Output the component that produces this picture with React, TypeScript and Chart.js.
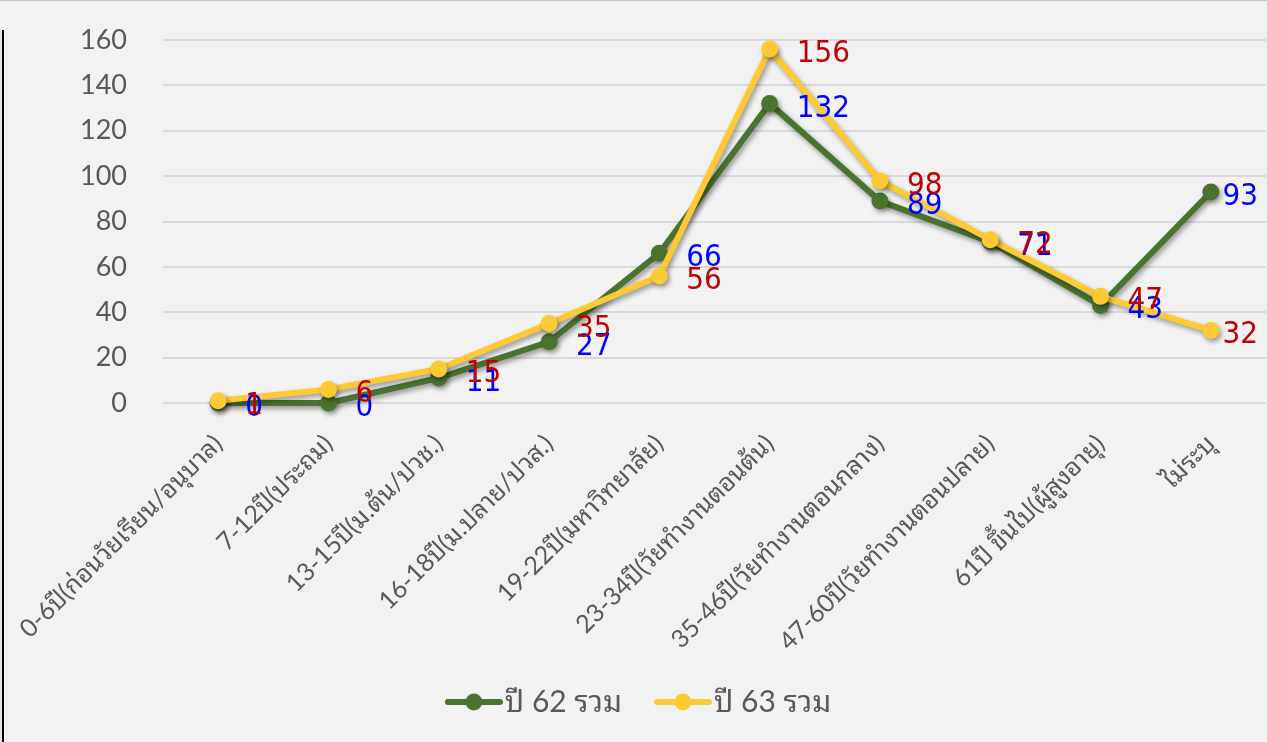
import React, { useEffect, useRef } from "react";
import { Chart, registerables } from "chart.js";

Chart.register(...registerables);

const categories: string[] = [
  "0-6ปี(ก่อนวัยเรียน/อนุบาล)",
  "7-12ปี(ประถม)",
  "13-15ปี(ม.ต้น/ปวช.)",
  "16-18ปี(ม.ปลาย/ปวส.)",
  "19-22ปี(มหาวิทยาลัย)",
  "23-34ปี(วัยทำงานตอนต้น)",
  "35-46ปี(วัยทำงานตอนกลาง)",
  "47-60ปี(วัยทำงานตอนปลาย)",
  "61ปี ขึ้นไป(ผู้สูงอายุ)",
  "ไม่ระบุ",
];

const series62: number[] = [0, 0, 11, 27, 66, 132, 89, 71, 43, 93];
const series63: number[] = [1, 6, 15, 35, 56, 156, 98, 72, 47, 32];

const seriesNames: string[] = ["ปี 62 รวม", "ปี 63 รวม"];
const lineColors: string[] = ["#4b7330", "#fdca34"];
const labelColors: string[] = ["#0000ff", "#c00000"];

const FONT_FAMILY =
  "Lato, 'Noto Sans Thai Looped', Loma, Garuda, 'Noto Sans Thai', 'Noto Sans', Tahoma, sans-serif";
const LABEL_FONT = "31px 'DejaVu Sans Condensed', 'DejaVu Sans', sans-serif";

function makeLegendImage(color: string): HTMLCanvasElement {
  const c = document.createElement("canvas");
  c.width = 58;
  c.height = 20;
  const ctx = c.getContext("2d")!;
  ctx.strokeStyle = color;
  ctx.lineWidth = 6;
  ctx.lineCap = "round";
  ctx.beginPath();
  ctx.moveTo(3, 10);
  ctx.lineTo(55, 10);
  ctx.stroke();
  ctx.fillStyle = color;
  ctx.beginPath();
  ctx.arc(29, 10, 8.5, 0, Math.PI * 2);
  ctx.fill();
  return c;
}

const shadowPlugin = {
  id: "shadowPlugin",
  beforeDatasetDraw(chart: any) {
    const ctx = chart.ctx;
    ctx.save();
    ctx.shadowColor = "rgba(0,0,0,0.38)";
    ctx.shadowBlur = 5;
    ctx.shadowOffsetX = 2;
    ctx.shadowOffsetY = 3;
  },
  afterDatasetDraw(chart: any) {
    chart.ctx.restore();
  },
};

const dataLabelPlugin = {
  id: "dataLabelPlugin",
  afterDatasetsDraw(chart: any) {
    const ctx = chart.ctx;
    ctx.save();
    ctx.font = LABEL_FONT;
    ctx.textAlign = "left";
    ctx.textBaseline = "middle";
    chart.data.datasets.forEach((ds: any, di: number) => {
      const meta = chart.getDatasetMeta(di);
      ctx.fillStyle = labelColors[di];
      meta.data.forEach((el: any, i: number) => {
        const txt = String(ds.data[i]);
        const w = ctx.measureText(txt).width;
        let x = el.x + 27;
        if (x + w > chart.width - 9) x = chart.width - 9 - w;
        ctx.fillText(txt, x, el.y + 5);
      });
    });
    ctx.restore();
  },
};

export default function App() {
  const canvasRef = useRef<HTMLCanvasElement | null>(null);

  useEffect(() => {
    document.body.style.margin = "0";
    const canvas = canvasRef.current;
    if (!canvas) return;
    const legendImages = lineColors.map((c) => makeLegendImage(c));

    const chart = new Chart(canvas, {
      type: "line",
      data: {
        labels: categories,
        datasets: [
          {
            label: seriesNames[0],
            data: series62,
            borderColor: lineColors[0],
            backgroundColor: lineColors[0],
            borderWidth: 6,
            pointRadius: 8.5,
            pointBorderWidth: 0,
            pointBackgroundColor: lineColors[0],
            tension: 0,
            clip: false,
            order: 1,
          },
          {
            label: seriesNames[1],
            data: series63,
            borderColor: lineColors[1],
            backgroundColor: lineColors[1],
            borderWidth: 6,
            pointRadius: 8.5,
            pointBorderWidth: 0,
            pointBackgroundColor: lineColors[1],
            tension: 0,
            clip: false,
            order: 0,
          },
        ],
      },
      options: {
        responsive: false,
        animation: false,
        devicePixelRatio: 1,
        layout: { autoPadding: false, padding: { top: 40, right: 1, left: 23, bottom: 15 } },
        scales: {
          x: {
            type: "category",
            offset: true,
            grid: { display: false, drawTicks: false },
            border: { display: false },
            ticks: {
              autoSkip: false,
              maxRotation: 45,
              minRotation: 45,
              color: "#595959",
              padding: 26,
              font: { family: FONT_FAMILY, size: 25 },
            },
            afterFit(scale: any) {
              scale.height = 239;
              scale.paddingLeft = 0;
              scale.paddingRight = 0;
              scale._computeLabelArea = () => undefined;
            },
          },
          y: {
            min: 0,
            max: 160,
            grid: { color: "#d9d9d9", lineWidth: 2, drawTicks: false },
            border: { display: false },
            ticks: {
              stepSize: 20,
              color: "#595959",
              padding: 36,
              font: { family: FONT_FAMILY, size: 27 },
            },
            afterFit(scale: any) {
              scale.width = 140;
              scale.paddingTop = 0;
              scale.paddingBottom = 0;
            },
          },
        },
        plugins: {
          tooltip: { enabled: false },
          legend: {
            position: "bottom",
            labels: {
              usePointStyle: true,
              pointStyleWidth: 32,
              padding: 45,
              color: "#595959",
              font: { family: FONT_FAMILY, size: 30 },
              generateLabels(ch: any) {
                return ch.data.datasets.map((ds: any, i: number) => ({
                  text: ds.label,
                  pointStyle: legendImages[i],
                  fillStyle: lineColors[i],
                  strokeStyle: lineColors[i],
                  lineWidth: 0,
                  hidden: false,
                  datasetIndex: i,
                  fontColor: "#595959",
                }));
              },
            },
          },
        },
      },
      plugins: [shadowPlugin, dataLabelPlugin],
    } as any);

    return () => chart.destroy();
  }, []);

  return (
    <div style={{ width: 1267, height: 742, background: "#f2f2f2", position: "relative", overflow: "hidden" }}>
      <div style={{ position: "absolute", left: 0, top: 0, width: 1267, height: 1, background: "#c4c4c4" }} />
      <div
        style={{
          position: "absolute",
          left: 0,
          top: 30,
          width: 2,
          height: 712,
          background: "#dce6f1",
          borderRight: "2px solid #000",
        }}
      />
      <canvas ref={canvasRef} width={1267} height={742} style={{ display: "block" }} />
    </div>
  );
}
